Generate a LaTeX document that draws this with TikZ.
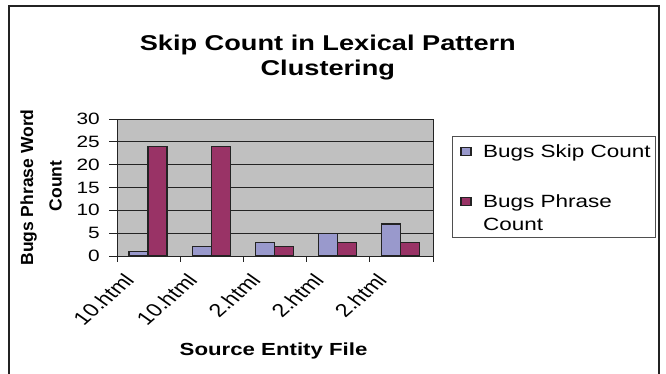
\documentclass[tikz,border=0pt]{standalone}
\usepackage{fontspec}
\setmainfont{Liberation Sans}
\usepackage{graphicx}
\newcommand{\sx}[1]{\scalebox{1.27}[1]{#1}}
\definecolor{plotgray}{RGB}{192,192,192}
\definecolor{skipblue}{RGB}{153,153,204}
\definecolor{phrasered}{RGB}{153,51,102}
\definecolor{linedark}{RGB}{35,35,35}
\begin{document}
\begin{tikzpicture}[x=1pt,y=-1pt,
  frameline/.style={draw=linedark,line width=1.8pt},
  gridline/.style={draw=linedark,line width=0.9pt},
  bar/.style={draw=linedark,line width=1.1pt},
  legendbox/.style={draw=linedark!80,line width=0.9pt,fill=white},
  titletext/.style={inner sep=0pt,anchor=base,font=\fontsize{21.4}{25}\selectfont\bfseries},
  axistitle/.style={inner sep=0pt,anchor=base,font=\fontsize{17.5}{21}\selectfont\bfseries},
  ticklab/.style={inner sep=0pt,anchor=east,font=\fontsize{16.4}{19}\selectfont},
  catlab/.style={inner sep=0pt,anchor=base east,rotate=48,transform shape,font=\fontsize{18.5}{22}\selectfont},
  legtext/.style={inner sep=0pt,anchor=base west,font=\fontsize{17.7}{21}\selectfont}]
\useasboundingbox (0,0) rectangle (666,374);
% outer frame
\draw[frameline] (9,374) -- (9,6) -- (659,6) -- (659,374);
% title
\node[titletext] (t1) at (327.8,51) {\sx{Skip Count in Lexical Pattern}};
\node[titletext] (t2) at (327.8,75.5) {\sx{Clustering}};
% plot area
\fill[plotgray] (117,119) rectangle (433,256);
\foreach \v in {5,10,...,25}
  \draw[gridline] (117,{256-\v*4.567}) -- (433,{256-\v*4.567});
\draw[gridline] (117,119) rectangle (433,256);
% y ticks and labels
\foreach \v in {0,5,...,30} {
  \draw[gridline] (109,{256-\v*4.567}) -- (117,{256-\v*4.567});
  \node[ticklab] (y\v) at (100,{256-\v*4.567}) {\sx{\v}};
}
% x ticks
\foreach \k in {0,...,5}
  \draw[gridline] ({117+63.2*\k},256) -- ({117+63.2*\k},261.5);
% bars
\foreach \k/\b/\r in {0/1/24,1/2/24,2/3/2,3/5/3,4/7/3} {
  \draw[bar,fill=skipblue] ({117+63.2*\k+12},256) rectangle ({117+63.2*\k+31},{256-\b*4.567});
  \draw[bar,fill=phrasered] ({117+63.2*\k+31},256) rectangle ({117+63.2*\k+50},{256-\r*4.567});
}
% category labels
\begin{scope}[xscale=1.27]
\foreach \k/\t in {0/10.html,1/10.html,2/2.html,3/2.html,4/2.html}
  \node[catlab] (c\k) at ({(148.6+63.2*\k-13)/1.27},281) {\t};
\end{scope}
% axis titles
\node[axistitle] (xt) at (273.6,355) {\sx{Source Entity File}};
\node[axistitle,rotate=90] (yt1) at (33,187.5) {Bugs Phrase Word};
\node[axistitle,rotate=90] (yt2) at (61.7,186) {Count};
% legend
\draw[legendbox] (452.7,136.7) rectangle (655,237);
\draw[bar,fill=skipblue] (461,147.7) rectangle (471,155.7);
\draw[bar,fill=phrasered] (461,197.7) rectangle (471,205.7);
\node[legtext] (l1) at (483,157.7) {\sx{Bugs Skip Count}};
\node[legtext] (l2) at (483,207.3) {\sx{Bugs Phrase}};
\node[legtext] (l3) at (483,230) {\sx{Count}};
\end{tikzpicture}
\end{document}
